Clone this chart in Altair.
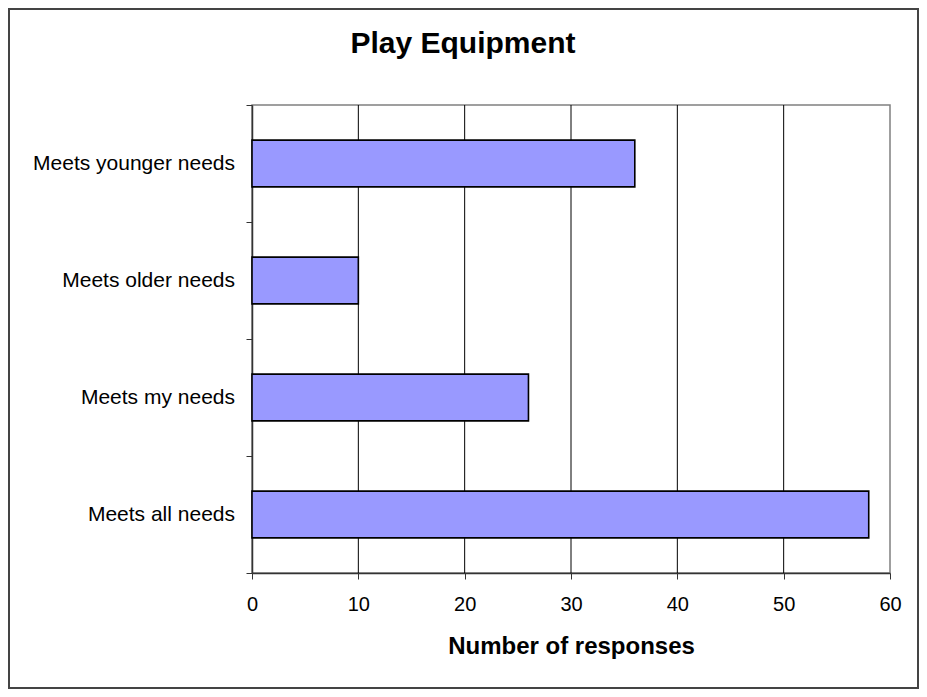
import altair as alt
import pandas as pd

categories = ["Meets younger needs", "Meets older needs", "Meets my needs", "Meets all needs"]
values = [36, 10, 26, 58]
x_ticks = [0, 10, 20, 30, 40, 50, 60]
x_grid = [10, 20, 30, 40, 50]
title_text = "Play Equipment"
x_title = "Number of responses"

n = len(categories)
df = pd.DataFrame({
    "category": categories,
    "value": values,
    "slot": [n - 1 - i for i in range(n)],
})
grid_df = pd.DataFrame({"g": x_grid})
frame_df = pd.DataFrame({"a": [0]})

FONT = "Liberation Sans"
W, H = 638, 468
PL, PT = 244, 97
TOTW, TOTH = 911, 681

xscale = alt.Scale(domain=[0, 60], nice=False, zero=True)
yscale = alt.Scale(domain=[0, n], nice=False, zero=True)

x_axis = alt.Axis(values=x_ticks, title=x_title, grid=False,
                  ticks=True, tickSize=6, tickColor="#333",
                  domainColor="#333", domainWidth=1.5,
                  labelFont=FONT, labelFontSize=20, labelColor="black",
                  labelPadding=15, labelFlush=False,
                  titleFont=FONT, titleFontSize=24, titleFontWeight="bold",
                  titleColor="black", titlePadding=20)

base = alt.Chart(df)

grid = alt.Chart(grid_df).mark_rule(color="black", strokeWidth=1).encode(
    x=alt.X("g:Q", scale=xscale, axis=x_axis, title=x_title),
)

bars = base.transform_calculate(
    zero="0", y0="datum.slot + 0.3", y1="datum.slot + 0.7"
).mark_rect(color="#9999FF", stroke="black", strokeWidth=1.6).encode(
    x=alt.X("zero:Q", scale=xscale, axis=x_axis, title=x_title),
    x2="value:Q",
    y=alt.Y("y0:Q", scale=yscale,
            axis=alt.Axis(values=list(range(n + 1)), labels=False, title=None,
                          grid=False, ticks=True, tickSize=6, tickColor="#333",
                          domainColor="#333", domainWidth=1.5)),
    y2="y1:Q",
)

labels = base.transform_calculate(mid="datum.slot + 0.5").mark_text(
    align="right", baseline="middle", font=FONT, fontSize=21, color="black"
).encode(
    x=alt.value(-17),
    y=alt.Y("mid:Q", scale=yscale),
    text="category:N",
)

title = alt.Chart(frame_df).transform_calculate(t=f"'{title_text}'").mark_text(
    align="center", baseline="middle", font=FONT, fontSize=30, fontWeight="bold", color="black"
).encode(
    x=alt.value(463 - 8 - PL),
    y=alt.value(44 - 8 - PT),
    text="t:N",
)

frame = alt.Chart(frame_df).mark_rect(fill=None, stroke="#444", strokeWidth=2).encode(
    x=alt.value(-PL + 1), x2=alt.value(TOTW - PL - 1),
    y=alt.value(-PT + 1), y2=alt.value(TOTH - PT - 1),
)

chart = alt.layer(grid, bars, labels, title, frame).properties(
    width=W, height=H,
    autosize=alt.AutoSizeParams(type="none"),
    padding={"left": PL, "top": PT, "right": TOTW - PL - W, "bottom": TOTH - PT - H},
    background="white",
).configure_view(stroke="#808080", strokeWidth=1.5)

chart.save("out.html", embed_options={"renderer": "svg", "actions": False})
